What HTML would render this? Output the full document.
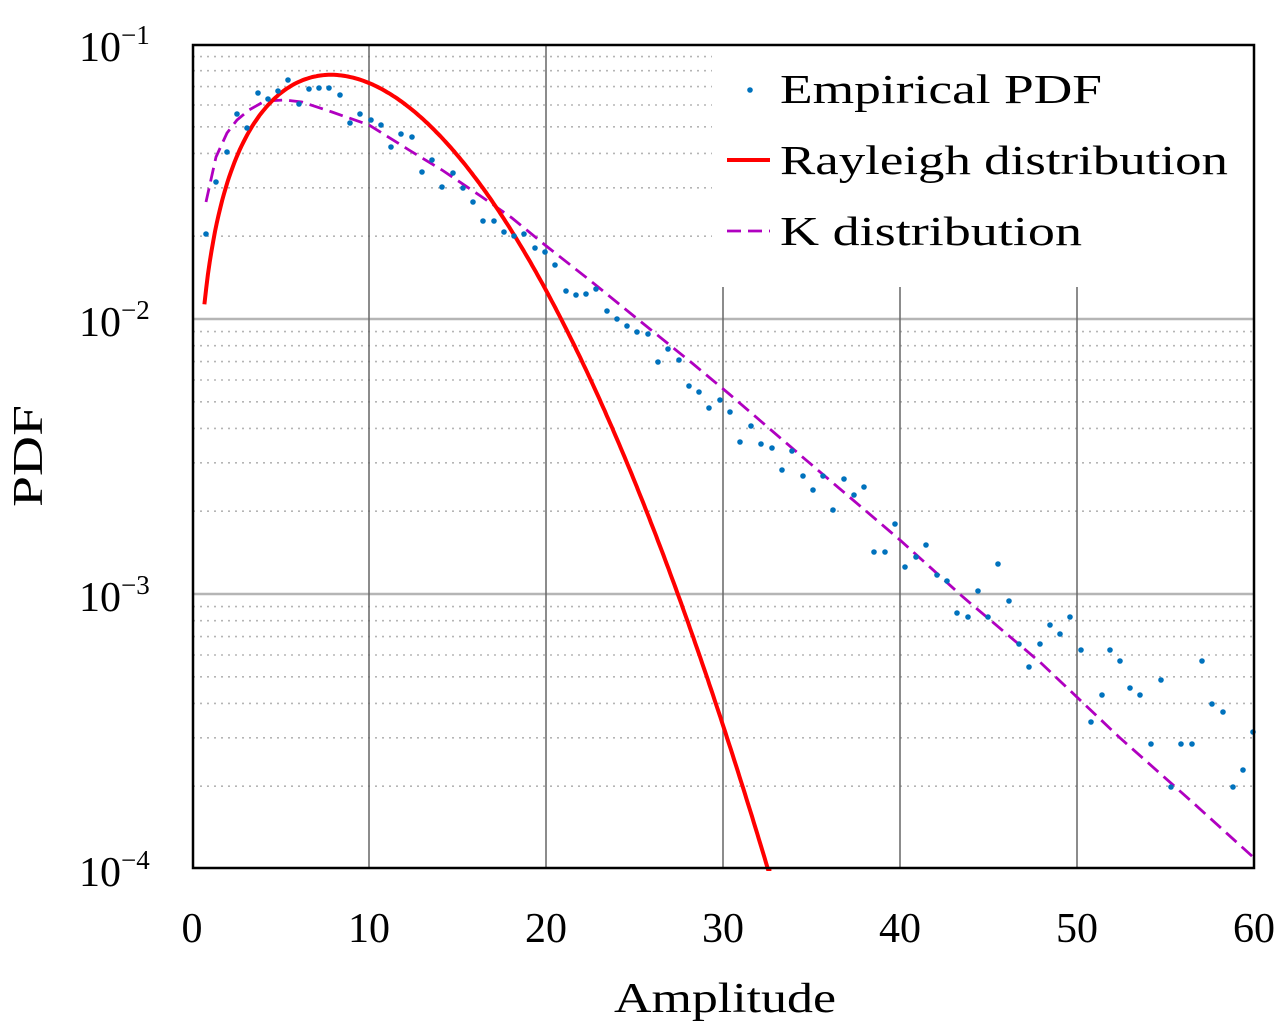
<!DOCTYPE html>
<html><head><meta charset="utf-8"><style>
html,body{margin:0;padding:0;background:#fff;}
svg{display:block;}
text{font-family:"Liberation Serif",serif;fill:#000;}
</style></head><body>
<svg id="s" width="1280" height="1030" viewBox="0 0 1280 1030" xmlns="http://www.w3.org/2000/svg">
<g id="grid"></g>
<rect x="712" y="46" width="541" height="241" fill="#fff"/>
<g id="series"></g>
<rect x="193" y="45" width="1061" height="823" fill="none" stroke="#000" stroke-width="2.5"/>
<g font-size="42">
<text x="192" y="942" text-anchor="middle">0</text>
<text x="369" y="942" text-anchor="middle">10</text>
<text x="546" y="942" text-anchor="middle">20</text>
<text x="723" y="942" text-anchor="middle">30</text>
<text x="900" y="942" text-anchor="middle">40</text>
<text x="1077" y="942" text-anchor="middle">50</text>
<text x="1254" y="942" text-anchor="middle">60</text>
<text x="614" y="1012" textLength="222" lengthAdjust="spacingAndGlyphs">Amplitude</text>
<text transform="translate(42,507) rotate(-90)" textLength="102" lengthAdjust="spacingAndGlyphs">PDF</text>
<text x="79" y="61">10<tspan font-size="27" dy="-17">−1</tspan></text>
<text x="79" y="336">10<tspan font-size="27" dy="-17">−2</tspan></text>
<text x="79" y="611">10<tspan font-size="27" dy="-17">−3</tspan></text>
<text x="79" y="886">10<tspan font-size="27" dy="-17">−4</tspan></text>
</g>
<g font-size="41">
<circle cx="750" cy="90" r="2.8" fill="#0072bd"/>
<text x="780" y="103" textLength="322" lengthAdjust="spacingAndGlyphs">Empirical PDF</text>
<line x1="727" y1="160" x2="770" y2="160" stroke="#f00" stroke-width="4"/>
<text x="780" y="174" textLength="448" lengthAdjust="spacingAndGlyphs">Rayleigh distribution</text>
<line x1="727" y1="231" x2="770" y2="231" stroke="#b000c0" stroke-width="2.8" stroke-dasharray="14 7"/>
<text x="780" y="245" textLength="302" lengthAdjust="spacingAndGlyphs">K distribution</text>
</g>
</svg>
<script>
var NS="http://www.w3.org/2000/svg";
function el(p,t,a){var e=document.createElementNS(NS,t);for(var k in a)e.setAttribute(k,a[k]);p.appendChild(e);return e;}
var g=document.getElementById('grid'),s=document.getElementById('series');
var bottoms=[319,594,869];
bottoms.forEach(function(b){for(var m=2;m<=9;m++){var y=b-275*Math.log10(m);
el(g,'line',{x1:193,y1:y,x2:1254,y2:y,stroke:'#b5b5b5','stroke-width':1.6,'stroke-dasharray':'2 5'});}});
[319,594].forEach(function(y){el(g,'line',{x1:193,y1:y,x2:1254,y2:y,stroke:'#b5b5b5','stroke-width':2.4});});
[369,546,723,900,1077].forEach(function(x){el(g,'line',{x1:x,y1:44,x2:x,y2:869,stroke:'#666','stroke-width':1.5});});
var sg=7.85,pts=[];
for(var x=0.7;x<=32.8;x+=0.1){var f=x/(sg*sg)*Math.exp(-x*x/(2*sg*sg));var px=192+x*17.72,py=44+(-1-Math.log10(f))*275;if(py>869)py=869;pts.push(px.toFixed(1)+','+py.toFixed(1));}
var kp="206,202 216,157 227,133 237,120 249,110 265,101 285,100 302,102 332,112 369,125 409,150 442,170 482,197 512,218 545,245 592,282 635,317 692,363 728,393 806,460 900,540 963,597 1041,663 1119,737 1190,800 1253,857";
el(s,'polyline',{points:kp,fill:'none',stroke:'#b000c0','stroke-width':2.8,'stroke-dasharray':'14 7'});
el(s,'polyline',{points:pts.join(' '),fill:'none',stroke:'#f00','stroke-width':4});
var d=[[206,234],[216,182],[227,152],[237,114],[247,128],[258,93],[268,99],[278,91],[288,80],[299,104],[309,89],[319,88],[329,88],[340,95],[350,123],[360,114],[371,120],[381,125],[391,147],[401,134],[412,137],[422,172],[432,160],[442,187],[453,173],[463,188],[473,202],[483,221],[494,221],[504,232],[514,236],[524,234],[535,248],[545,252],[555,265],[566,291],[576,295],[586,294],[596,289],[607,311],[617,319],[627,326],[637,332],[648,334],[658,362],[668,349],[679,360],[689,386],[699,392],[709,408],[720,400],[730,412],[740,442],[751,426],[761,444],[772,448],[782,470],[792,451],[803,476],[813,490],[823,476],[833,510],[844,479],[854,495],[864,487],[874,552],[885,552],[895,524],[905,567],[916,557],[926,545],[937,575],[947,581],[957,613],[968,617],[978,591],[988,617],[998,564],[1009,601],[1019,644],[1029,667],[1040,644],[1050,625],[1060,634],[1070,617],[1081,650],[1091,722],[1102,695],[1110,650],[1120,661],[1130,688],[1140,695],[1151,744],[1161,680],[1171,787],[1181,744],[1192,744],[1202,661],[1212,704],[1223,712],[1233,787],[1243,770],[1253,732]];
d.forEach(function(p){el(s,'circle',{cx:p[0],cy:p[1],r:2.8,fill:'#0072bd'});});
</script>
</body></html>
